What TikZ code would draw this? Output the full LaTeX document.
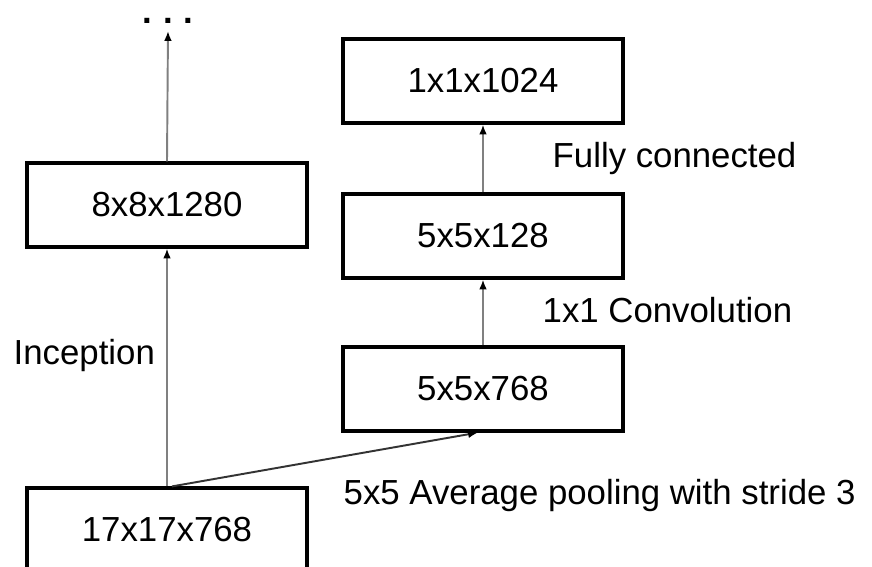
\documentclass[tikz,border=0pt]{standalone}
\usepackage{fontspec}
\setmainfont{Liberation Sans}
\usetikzlibrary{arrows.meta}

\begin{document}
\begin{tikzpicture}[x=0.1cm,y=-0.1cm,
    font=\fontsize{9.9}{11.8}\selectfont,
    layer/.style={draw,line width=0.9pt,minimum width=2.8cm,minimum height=0.84cm,inner sep=0},
    flow/.style={draw=gray,line width=0.55pt,-{Latex[length=2.8pt,width=2.2pt,black]}},
    lbl/.style={anchor=base west,inner sep=0}]
                    \clip (0,0) rectangle (87.2,56.7);
                    \node (dots) at (16.8,2.4) [anchor=base,inner sep=0,outer sep=2pt] {\bfseries .\hspace{3pt}.\hspace{3pt}.};
                    \node (b8) at (16.7,20.5) [layer] {8x8x1280};
                    \node (b17) at (16.7,53.0) [layer] {17x17x768};
                    \node (f1024) at (48.3,8.1) [layer] {1x1x1024};
                    \node (f128) at (48.3,23.6) [layer] {5x5x128};
                    \node (f768) at (48.3,38.9) [layer] {5x5x768};
                    \draw [flow] (b17.north) -- (b8.south);
                    \draw [flow] (b8.north) -- (dots.south);
                    \draw [flow] (f768.north) -- (f128.south);
                    \draw [flow] (f128.north) -- (f1024.south);
                    \draw [flow,draw=black!80] ([xshift=0.5mm]b17.north) -- ([xshift=-0.5mm]f768.south);
                    \node (inc) at (1.3,36.5) [lbl] {Inception};
                    \node (fc) at (55.2,16.8) [lbl] {Fully connected};
                    \node (conv) at (54.2,32.3) [lbl] {1x1 Convolution};
                    \node (pool) at (34.3,50.5) [lbl] {5x5 Average pooling with stride 3};
                \end{tikzpicture}
\end{document}
